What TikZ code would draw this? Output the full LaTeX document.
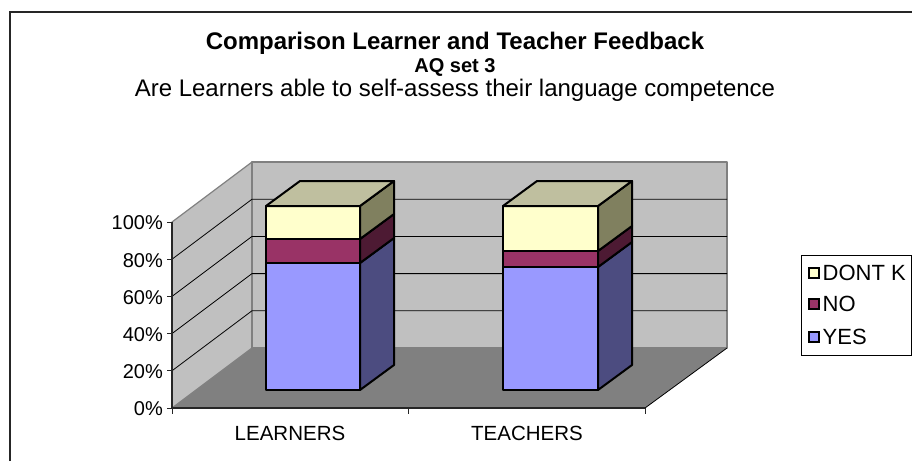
\documentclass[tikz,border=0pt]{standalone}
\usepackage{fontspec}
\setmainfont{Liberation Sans}
\definecolor{wallgray}{HTML}{C0C0C0}
\definecolor{floorgray}{HTML}{808080}
\definecolor{edgegray}{HTML}{808080}
\definecolor{yesfront}{HTML}{9999FF}
\definecolor{yesside}{HTML}{4C4C80}
\definecolor{nofront}{HTML}{993366}
\definecolor{noside}{HTML}{4D1A33}
\definecolor{dkfront}{HTML}{FFFFCC}
\definecolor{dkside}{HTML}{80805F}
\definecolor{dktop}{HTML}{BFBF9F}
\tikzset{
  wall/.style={fill=wallgray,draw=edgegray,line width=1.2pt,line join=round},
  floorface/.style={fill=floorgray,draw=none},
  grid/.style={draw=black,line width=0.8pt},
  axisline/.style={draw=black!85,line width=1.4pt},
  tick/.style={draw=black!85,line width=1pt},
  barface/.style={draw=black,line width=2pt,line join=round},
  ylab/.style={anchor=east,font=\fontsize{20}{22}\selectfont,inner sep=0pt},
  xlab/.style={anchor=base,font=\fontsize{20.5}{22}\selectfont,inner sep=0pt},
  leglab/.style={anchor=west,font=\fontsize{22}{23}\selectfont,inner sep=0pt},
  swatch/.style={draw=black,line width=1.6pt},
}
% segment: x1, x2, ybottom, ytop, front colour, side colour
\newcommand{\mybarseg}[6]{%
  \path[barface,fill=#5] (#1,#3) rectangle (#2,#4);
  \path[barface,fill=#6] (#2,#3) -- (#2+34,#3-25) -- (#2+34,#4-25) -- (#2,#4) -- cycle;
}
\newcommand{\mybartop}[3]{%
  \path[barface,fill=dktop] (#1,#3) -- (#1+34,#3-25) -- (#2+34,#3-25) -- (#2,#3) -- cycle;
}
\begin{document}
\begin{tikzpicture}[x=1pt,y=-1pt]
\useasboundingbox[fill=white] (0,0) rectangle (912,461);
% outer frame
\draw[black!85,line width=1.6pt] (10,461) -- (10,12) -- (912,12);
% titles
\node[anchor=base,font=\fontsize{24}{26}\selectfont\bfseries,inner sep=0pt] (title) at (455,49.5) {Comparison Learner and Teacher Feedback};
\node[anchor=base,font=\fontsize{20}{22}\selectfont\bfseries,inner sep=0pt] (sub1) at (455,72.5) {AQ set 3};
\node[anchor=base,font=\fontsize{24}{26}\selectfont,inner sep=0pt] (sub2) at (455,96.5) {Are Learners able to self-assess their language competence};
% walls and floor
\path[floorface] (172,408) -- (645,408) -- (727,348) -- (252,348) -- cycle;
\draw[wall] (172,408) -- (172,222) -- (252,162) -- (252,348) -- cycle;
\draw[wall] (252,162) rectangle (727,348);
\draw[black,line width=0.8pt] (645,408) -- (727,348);
% gridlines
\foreach \k in {1,2,3,4}{
  \draw[grid] (172,408-37.2*\k) -- (252,348-37.2*\k) -- (727,348-37.2*\k);
}
% axes
\draw[axisline] (172,222) -- (172,408) -- (645,408);
\foreach \k in {0,...,5}{
  \draw[tick] (167,408-37.2*\k) -- (172,408-37.2*\k);
}
\foreach \xx in {172,408,645}{
  \draw[tick] (\xx,408) -- (\xx,414);
}
\node[ylab] (l0) at (163,409) {0\%};
\node[ylab] (l20) at (163,371.8) {20\%};
\node[ylab] (l40) at (163,334.6) {40\%};
\node[ylab] (l60) at (163,297.4) {60\%};
\node[ylab] (l80) at (163,260.2) {80\%};
\node[ylab] (l100) at (163,223) {100\%};
\node[xlab] (learners) at (290,440) {LEARNERS};
\node[xlab] (teachers) at (527,440) {TEACHERS};
% bars
\mybarseg{266}{360}{390}{263}{yesfront}{yesside}
\mybarseg{266}{360}{263}{239}{nofront}{noside}
\mybarseg{266}{360}{239}{206}{dkfront}{dkside}
\mybartop{266}{360}{206}
\mybarseg{503}{598}{390}{267}{yesfront}{yesside}
\mybarseg{503}{598}{267}{251}{nofront}{noside}
\mybarseg{503}{598}{251}{206}{dkfront}{dkside}
\mybartop{503}{598}{206}
% legend
\draw[black,line width=1pt] (801,255) rectangle (911,355);
\draw[swatch,fill=dkfront] (809,268) rectangle (819,278);
\draw[swatch,fill=nofront] (809,299) rectangle (819,309);
\draw[swatch,fill=yesfront] (809,332) rectangle (819,342);
\node[leglab] (ldk) at (822.5,273) {DONT K};
\node[leglab] (lno) at (822.5,304) {NO};
\node[leglab] (lyes) at (822.5,337) {YES};
\end{tikzpicture}
\end{document}
